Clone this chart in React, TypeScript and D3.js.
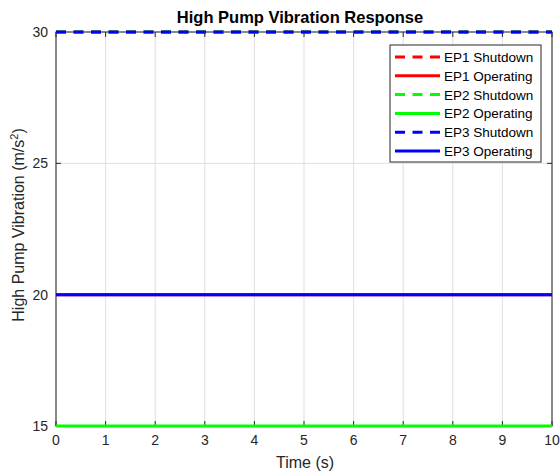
import React from "react";
import * as d3 from "d3";

const timePoints = [0, 10];
const seriesNames = ["EP1 Shutdown", "EP1 Operating", "EP2 Shutdown", "EP2 Operating", "EP3 Shutdown", "EP3 Operating"];
const seriesValues = [30, 20, 30, 15, 30, 20];
const seriesColors = ["#ff0000", "#ff0000", "#00ff00", "#00ff00", "#0000ff", "#0000ff"];
const seriesDashed = [true, false, true, false, true, false];
const xTicks = [0, 1, 2, 3, 4, 5, 6, 7, 8, 9, 10];
const yTicks = [15, 20, 25, 30];

export default function App() {
  const W = 560, H = 473;
  const left = 56, right = 552, top = 32, bottom = 426;
  const x = d3.scaleLinear().domain([0, 10]).range([left, right]);
  const y = d3.scaleLinear().domain([15, 30]).range([bottom, top]);
  const line = d3.line<[number, number]>().x(d => x(d[0])).y(d => y(d[1]));
  const font = "Helvetica, Arial, 'Liberation Sans', sans-serif";
  const legX = 390, legY = 45, legW = 151, rowH = 18.8;
  const dash = "10,7.5";

  return (
    <svg width={W} height={H} style={{ position: "absolute", left: 0, top: 0, background: "#fff" }} fontFamily={font}>
      <rect x={0} y={0} width={W} height={H} fill="#fff" />
      <rect x={left} y={top} width={right - left} height={bottom - top} fill="#fff" />
      {xTicks.map(t => (
        <line key={"gx" + t} x1={x(t)} x2={x(t)} y1={top} y2={bottom} stroke="#dfdfdf" strokeWidth={1} />
      ))}
      {yTicks.map(t => (
        <line key={"gy" + t} x1={left} x2={right} y1={y(t)} y2={y(t)} stroke="#dfdfdf" strokeWidth={1} />
      ))}
      <rect x={left} y={top} width={right - left} height={bottom - top} fill="none" stroke="#262626" strokeWidth={1} />
      {xTicks.map(t => (
        <g key={"tx" + t}>
          <line x1={x(t)} x2={x(t)} y1={bottom} y2={bottom - 5} stroke="#262626" />
          <line x1={x(t)} x2={x(t)} y1={top} y2={top + 5} stroke="#262626" />
          <text x={x(t)} y={bottom + 19} textAnchor="middle" fontSize={14} fill="#262626">{t}</text>
        </g>
      ))}
      {yTicks.map(t => (
        <g key={"ty" + t}>
          <line x1={left} x2={left + 5} y1={y(t)} y2={y(t)} stroke="#262626" />
          <line x1={right} x2={right - 5} y1={y(t)} y2={y(t)} stroke="#262626" />
          <text x={left - 8} y={y(t) + 5} textAnchor="end" fontSize={14} fill="#262626">{t}</text>
        </g>
      ))}
      {seriesNames.map((n, i) => (
        <path key={n} d={line(timePoints.map(tp => [tp, seriesValues[i]]) as [number, number][]) || ""}
          fill="none" stroke={seriesColors[i]} strokeWidth={3}
          strokeDasharray={seriesDashed[i] ? dash : undefined} />
      ))}
      <text x={300} y={23} textAnchor="middle" fontSize={16.5} fontWeight="bold" fill="#000">High Pump Vibration Response</text>
      <text x={305} y={468} textAnchor="middle" fontSize={16} fill="#262626">Time (s)</text>
      <text transform={`translate(24,225) rotate(-90)`} textAnchor="middle" fontSize={16} fill="#262626">
        High Pump Vibration (m/s<tspan dy={-6} fontSize={11}>2</tspan><tspan dy={6}>)</tspan>
      </text>
      <rect x={legX} y={legY} width={legW} height={117} fill="#fff" stroke="#262626" strokeWidth={1} />
      {seriesNames.map((n, i) => {
        const cy = legY + 12 + i * rowH;
        return (
          <g key={"l" + n}>
            <line x1={legX + 5} x2={legX + 50} y1={cy} y2={cy} stroke={seriesColors[i]} strokeWidth={3}
              strokeDasharray={seriesDashed[i] ? dash : undefined} />
            <text x={legX + 54} y={cy + 5} fontSize={13.5} fill="#000">{n}</text>
          </g>
        );
      })}
    </svg>
  );
}
